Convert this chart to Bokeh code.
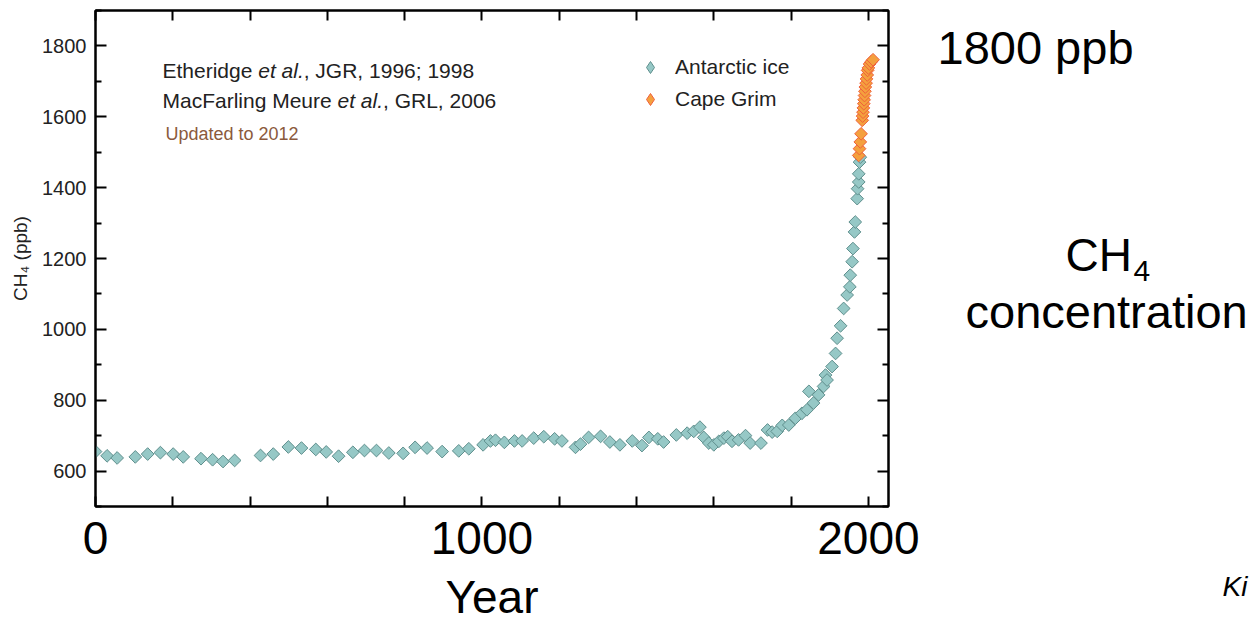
from bokeh.plotting import figure
from bokeh.layouts import row, column
from bokeh.models import (Range1d, LinearAxis, FixedTicker, Label, Legend,
                          LegendItem, ColumnDataSource)
from bokeh.embed import file_html
from bokeh.resources import INLINE

# ---------------- data ----------------
ice_year = [0, 30, 56, 103, 135, 168, 201, 227, 273, 303, 330, 360, 427, 460,
            499, 533, 570, 597, 629, 666, 696, 727, 759, 796, 827, 858, 897,
            940, 966, 1003, 1022, 1035, 1058, 1084, 1104, 1134, 1160, 1188,
            1207, 1242, 1255, 1276, 1307, 1331, 1357, 1389, 1414, 1432, 1455,
            1470, 1503, 1531, 1548, 1564, 1574, 1587, 1600, 1613, 1626, 1636,
            1647, 1664, 1682, 1694, 1722, 1739, 1751, 1764, 1777, 1794, 1811,
            1828, 1841, 1846, 1858, 1871, 1884, 1889, 1893, 1906, 1915, 1919,
            1928, 1936, 1945, 1952, 1953, 1958, 1960, 1964, 1966, 1971, 1972,
            1975, 1975, 1977, 1979]
ice_ch4 = [655, 643, 637, 640, 648, 652, 648, 640, 635, 632, 627, 630, 644, 648,
           668, 665, 661, 654, 642, 653, 658, 658, 651, 650, 667, 665, 655,
           657, 663, 674, 685, 687, 681, 685, 685, 693, 697, 691,
           685, 667, 676, 695, 698, 682, 674, 685, 672, 695, 691,
           682, 702, 707, 712, 724, 695, 679, 674, 684, 693, 697,
           684, 688, 700, 679, 679, 716, 710, 712, 729, 730, 749,
           763, 773, 825, 792, 815, 839, 871, 857, 895, 932, 975,
           1010, 1059, 1097, 1120, 1153, 1191, 1228, 1275, 1303, 1369, 1397,
           1416, 1439, 1472, 1486]

cg_year = [1975, 1977, 1979, 1981, 1984, 1985, 1986, 1987, 1988, 1989, 1990,
           1991, 1992, 1994, 1995, 1997, 1998, 2000, 2003, 2007, 2012]
cg_ch4 = [1491, 1510, 1529, 1552, 1590, 1602, 1613, 1625, 1637, 1648, 1660,
          1672, 1684, 1695, 1707, 1718, 1731, 1738, 1749, 1755, 1761]

x_ticks = [0, 200, 400, 600, 800, 1000, 1200, 1400, 1600, 1800, 2000]
x_labels = {0: "0", 1000: "1000", 2000: "2000"}
y_ticks = [600, 800, 1000, 1200, 1400, 1600, 1800]
y_minor = [500, 700, 900, 1100, 1300, 1500, 1700, 1900]

ICE_FILL, ICE_LINE = "#96c8c6", "#5f8f8d"
CG_FILL, CG_LINE = "#f4a03e", "#f0603a"
SANS = "Liberation Sans"
DIAG = 0.7853981634

# ---------------- main chart ----------------
p = figure(width=920, height=625, x_range=Range1d(0, 2052),
           y_range=Range1d(500, 1900), output_backend="svg", title=None,
           toolbar_location=None, min_border_left=95, min_border_right=32,
           min_border_top=10, min_border_bottom=116)
p.grid.visible = False
p.outline_line_color = "black"
p.outline_line_width = 2

xa = p.xaxis[0]
xa.ticker = FixedTicker(ticks=x_ticks, minor_ticks=[])
xa.major_label_overrides = {t: x_labels.get(t, "") for t in x_ticks}
xa.major_label_text_font = SANS
xa.major_label_text_font_size = "46px"
xa.major_label_text_color = "black"
xa.major_label_standoff = 15
xa.major_tick_in = 10
xa.major_tick_out = 0
xa.minor_tick_in = 0
xa.minor_tick_out = 0
xa.axis_line_width = 2
xa.major_tick_line_width = 2
xa.axis_label = "Year"
xa.axis_label_text_font = SANS
xa.axis_label_text_font_size = "46px"
xa.axis_label_text_font_style = "normal"
xa.axis_label_text_color = "black"
xa.axis_label_standoff = 14

ya = p.yaxis[0]
ya.ticker = FixedTicker(ticks=y_ticks, minor_ticks=y_minor)
ya.major_label_text_font = SANS
ya.major_label_text_font_size = "20px"
ya.major_label_text_color = "#222222"
ya.major_label_standoff = 9
ya.major_tick_in = 11
ya.major_tick_out = 0
ya.minor_tick_in = 6
ya.minor_tick_out = 0
ya.axis_line_width = 2
ya.major_tick_line_width = 2
ya.minor_tick_line_width = 2
ya.axis_label = "CH\u2084 (ppb)"
ya.axis_label_text_font = SANS
ya.axis_label_text_font_size = "19px"
ya.axis_label_text_font_style = "normal"
ya.axis_label_text_color = "#222222"
ya.axis_label_standoff = 8

for place, tk, mn, tin, mtin in (("above", x_ticks, [], 10, 0),
                                 ("right", y_ticks, y_minor, 11, 6)):
    ax = LinearAxis(ticker=FixedTicker(ticks=tk, minor_ticks=mn))
    ax.major_label_text_font_size = "0px"
    ax.major_label_standoff = 0
    ax.major_tick_in = tin
    ax.major_tick_out = 0
    ax.minor_tick_in = mtin
    ax.minor_tick_out = 0
    ax.axis_line_width = 2
    ax.major_tick_line_width = 2
    ax.minor_tick_line_width = 2
    p.add_layout(ax, place)

src_ice = ColumnDataSource(dict(x=ice_year, y=ice_ch4))
src_cg = ColumnDataSource(dict(x=cg_year, y=cg_ch4))
p.scatter("x", "y", source=src_ice, marker="square", size=9, angle=DIAG,
          fill_color=ICE_FILL, line_color=ICE_LINE, line_width=1)
p.scatter("x", "y", source=src_cg, marker="square", size=9, angle=DIAG,
          fill_color=CG_FILL, line_color=CG_LINE, line_width=1)

# legend swatches: diamond glyphs of size 0 (only their legend icon shows)
l1 = p.scatter(x=ice_year[:1], y=ice_ch4[:1], marker="diamond", size=0,
               fill_color=ICE_FILL, line_color=ICE_LINE, line_width=1)
l2 = p.scatter(x=cg_year[-1:], y=cg_ch4[-1:], marker="diamond", size=0,
               fill_color=CG_FILL, line_color=CG_LINE, line_width=1)
legend = Legend(items=[LegendItem(label="Antarctic ice", renderers=[l1]),
                       LegendItem(label="Cape Grim", renderers=[l2])],
                location=(540, 392), background_fill_alpha=0,
                border_line_alpha=0, padding=0, margin=0, spacing=2,
                label_height=22, glyph_height=30, glyph_width=30,
                label_standoff=10, label_text_font=SANS,
                label_text_font_size="21px", label_text_color="#222222")
p.add_layout(legend)


def lab(fig, text, x, base, size, style="normal", color="#222222",
        align="left"):
    """base: wanted baseline height above the frame bottom (px)."""
    px = float(size.replace("px", ""))
    fig.add_layout(Label(x=x, y=base + 0.37 * px, x_units="screen",
                         y_units="screen", text=text, text_font=SANS,
                         text_font_size=size, text_font_style=style,
                         text_color=color, text_align=align,
                         text_baseline="alphabetic"))


lab(p, "Etheridge ", 67, 428, "21px")
lab(p, "et al.", 162.7, 428, "21px", style="italic")
lab(p, ", JGR, 1996; 1998", 208.2, 428, "21px")
lab(p, "MacFarling Meure ", 67, 398, "21px")
lab(p, "et al.", 242, 398, "21px", style="italic")
lab(p, ", GRL, 2006", 287.5, 398, "21px")
lab(p, "Updated to 2012", 70, 366, "18px", color="#8b5a3c")

# ---------------- slide texts on the right ----------------
p_right = figure(width=332, height=625, x_range=Range1d(0, 332),
                 y_range=Range1d(0, 625), output_backend="svg",
                 toolbar_location=None, min_border=0, title=None)
p_right.axis.visible = False
p_right.grid.visible = False
p_right.outline_line_color = None

lab(p_right, "1800 ppb", 17, 561, "47px", color="black")
lab(p_right, "CH", 145, 353, "46px", color="black")
lab(p_right, "4", 213, 343, "30px", color="black")
lab(p_right, "concentration", 45, 297, "47px", color="black")
lab(p_right, "Ki", 302, 29, "28px", style="italic", color="black")

layout = row(column(p), p_right)
open("out.html", "w").write(file_html(layout, INLINE))
